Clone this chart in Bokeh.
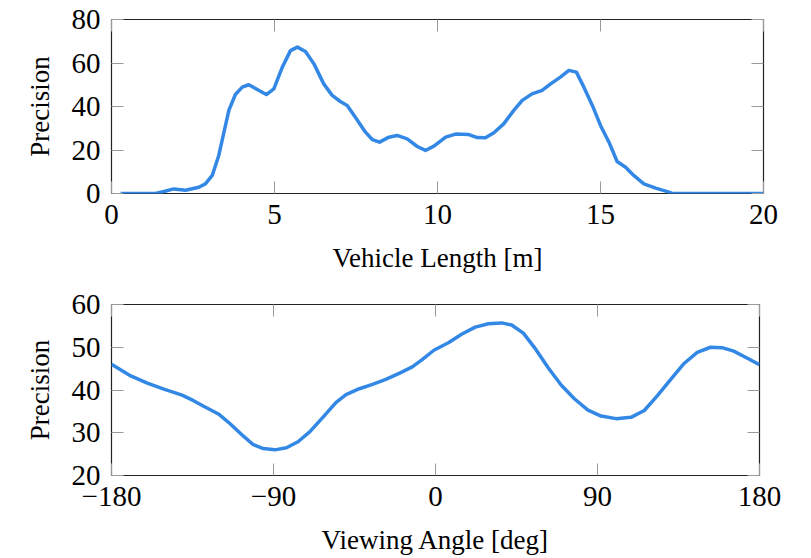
from bokeh.plotting import figure
from bokeh.layouts import column
from bokeh.models import FixedTicker, LinearAxis, CustomJSTickFormatter, Range1d
from bokeh.embed import file_html
from bokeh.resources import INLINE

# ---- data: top panel (precision vs vehicle length) ----
length_m = [0.28, 1.35, 1.61, 1.91, 2.27, 2.68, 2.88, 3.09, 3.29, 3.45, 3.60, 3.80,
            4.01, 4.21, 4.47, 4.75, 4.98, 5.24, 5.49, 5.70, 5.95, 6.21, 6.51, 6.77,
            7.02, 7.23, 7.48, 7.79, 8.00, 8.22, 8.51, 8.76, 9.07, 9.38, 9.63, 9.89,
            10.25, 10.55, 10.96, 11.22, 11.47, 11.73, 12.03, 12.34, 12.60, 12.90,
            13.21, 13.47, 13.77, 14.03, 14.26, 14.49, 14.75, 15.00, 15.26, 15.51,
            15.77, 16.02, 16.33, 16.69, 17.00, 17.20, 20.0]
precision_len = [0.0, 0.0, 0.9, 2.1, 1.5, 2.9, 4.4, 8.3, 17.5, 28.2, 38.2, 45.5,
                 48.9, 50.0, 47.8, 45.5, 48.1, 58.1, 65.7, 67.3, 65.3, 59.6, 50.4, 45.1,
                 42.3, 40.5, 35.1, 28.2, 24.8, 23.6, 25.9, 26.7, 25.1, 21.6, 19.8, 21.8,
                 25.9, 27.3, 27.1, 25.7, 25.6, 27.9, 32.0, 38.2, 42.8, 45.8,
                 47.4, 50.4, 53.5, 56.6, 55.8, 48.9, 40.5, 31.3, 23.6, 14.7,
                 12.1, 8.3, 4.4, 2.5, 1.1, 0.0, 0.0]

# ---- data: bottom panel (precision vs viewing angle) ----
angle_deg = [-180, -169.3, -160.1, -150.9, -140.8, -134.4, -128.8, -120.6, -114.1,
             -106.7, -101.2, -95.7, -89.3, -82.8, -76.4, -69.9, -62.6, -55.2, -49.7,
             -42.3, -35.0, -27.6, -20.2, -12.9, -7.4, -0.9, 7.4, 14.7, 22.1, 29.4,
             36.8, 42.3, 48.8, 55.2, 62.6, 69.9, 77.3, 84.7, 92.0, 100.3, 108.6,
             116.0, 123.3, 130.7, 138.1, 145.4, 152.8, 159.2, 165.7, 173.0, 180]
precision_ang = [46.0, 43.3, 41.6, 40.2, 38.8, 37.5, 36.2, 34.4, 32.1,
                 29.2, 27.2, 26.3, 26.0, 26.5, 27.9, 30.2, 33.6, 37.1, 38.9,
                 40.3, 41.3, 42.5, 43.9, 45.4, 47.1, 49.3, 51.1, 53.1, 54.7, 55.5,
                 55.7, 55.2, 53.3, 49.8, 45.2, 41.1, 37.9, 35.3, 33.9, 33.3, 33.6,
                 35.2, 38.7, 42.5, 46.2, 48.8, 50.0, 49.9, 49.1, 47.5, 45.9]

len_xticks = [0, 5, 10, 15, 20]
len_yticks = [0, 20, 40, 60, 80]
ang_xticks = [-180, -90, 0, 90, 180]
ang_yticks = [20, 30, 40, 50, 60]

LINE = "#3388e6"
FONT = "Liberation Serif"
TICK_FS = "29px"
LABEL_FS = "27px"

fmt_js = "return (tick < 0 ? '\\u2212' + Math.abs(tick) : '' + tick);"


def style(p, xt, yt, xlabel, ylabel):
    p.xgrid.visible = False
    p.ygrid.visible = False
    p.outline_line_color = "#222222"
    p.outline_line_width = 1.2
    p.background_fill_color = "white"
    p.border_fill_color = "white"
    fmt = CustomJSTickFormatter(code=fmt_js)
    for ax in (p.xaxis[0], p.yaxis[0]):
        ax.axis_line_color = None
        ax.major_tick_in = 12
        ax.major_tick_out = 0
        ax.minor_tick_line_color = None
        ax.major_tick_line_color = "#9a9a9a"
        ax.major_tick_line_width = 1
        ax.major_label_text_font = FONT
        ax.major_label_text_font_size = TICK_FS
        ax.major_label_text_color = "black"
        ax.axis_label_text_font = FONT
        ax.axis_label_text_font_size = LABEL_FS
        ax.axis_label_text_font_style = "normal"
        ax.axis_label_text_color = "black"
        ax.formatter = fmt
    p.xaxis[0].ticker = FixedTicker(ticks=xt)
    p.yaxis[0].ticker = FixedTicker(ticks=yt)
    p.xaxis[0].axis_label = xlabel
    p.yaxis[0].axis_label = ylabel
    p.xaxis[0].major_label_standoff = 11
    p.yaxis[0].major_label_standoff = 11
    p.xaxis[0].axis_label_standoff = 16
    p.yaxis[0].axis_label_standoff = 14
    # mirrored inner ticks on top and right
    for loc, t in (("above", xt), ("right", yt)):
        ax = LinearAxis(ticker=FixedTicker(ticks=t))
        ax.axis_line_color = None
        ax.major_tick_in = 12
        ax.major_tick_out = 0
        ax.minor_tick_line_color = None
        ax.major_tick_line_color = "#9a9a9a"
        ax.major_label_text_font_size = "0px"
        ax.major_label_text_color = None
        ax.major_label_standoff = 0
        p.add_layout(ax, loc)


p1 = figure(width=804, height=282, output_backend="svg", toolbar_location=None,
            x_range=Range1d(0, 20), y_range=Range1d(0, 80),
            min_border_left=111, min_border_right=41, min_border_top=19,
            min_border_bottom=89)
p1.line(length_m, precision_len, line_color=LINE, line_width=3.5, line_join="round")
style(p1, len_xticks, len_yticks, "Vehicle Length [m]", "Precision")

p2 = figure(width=800, height=275, output_backend="svg", toolbar_location=None,
            x_range=Range1d(-180, 180), y_range=Range1d(20, 60),
            min_border_left=107, min_border_right=41, min_border_top=22,
            min_border_bottom=80)
p2.line(angle_deg, precision_ang, line_color=LINE, line_width=3.5, line_join="round")
style(p2, ang_xticks, ang_yticks, "Viewing Angle [deg]", "Precision")

layout = column(p1, p2)
open("out.html", "w").write(file_html(layout, INLINE))
